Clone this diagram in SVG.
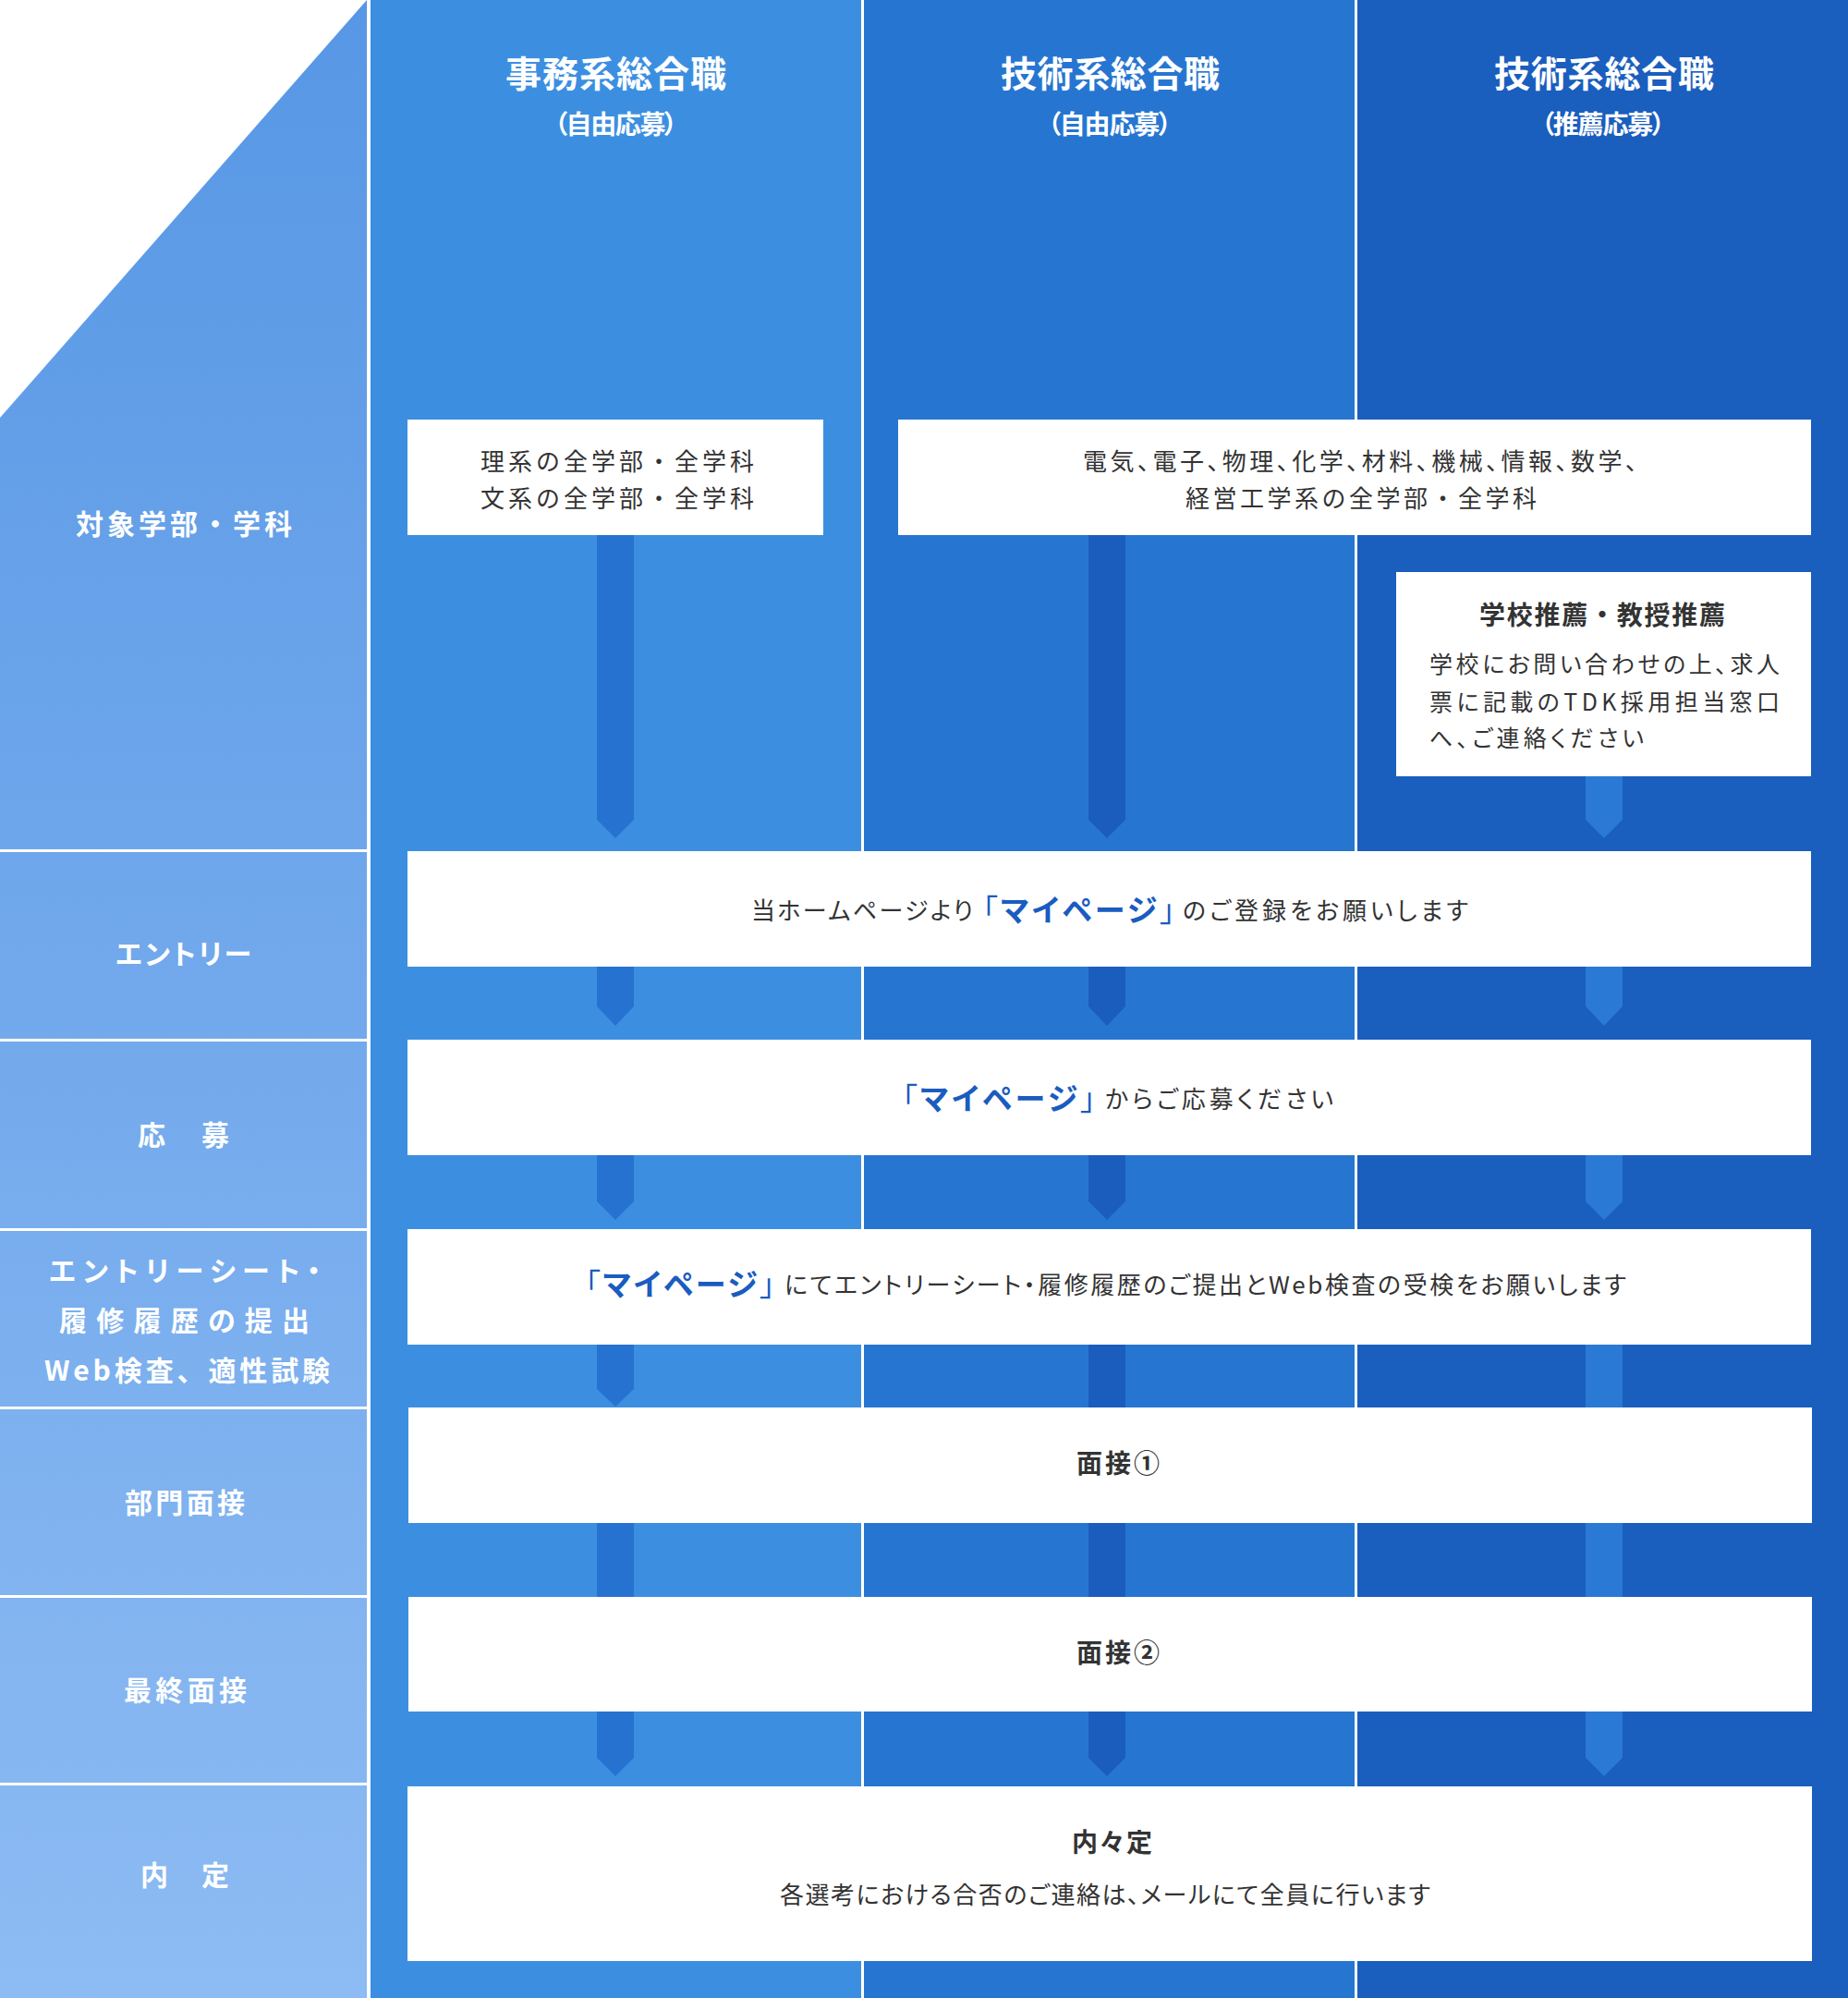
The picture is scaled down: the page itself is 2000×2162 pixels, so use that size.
<svg xmlns="http://www.w3.org/2000/svg" width="2000" height="2162" viewBox="0 0 2000 2162">
<defs>
<linearGradient id="leftGrad" x1="0" y1="0" x2="0" y2="2162" gradientUnits="userSpaceOnUse">
<stop offset="0" stop-color="#5797e5"/>
<stop offset="1" stop-color="#8dbbf3"/>
</linearGradient>
</defs>
<style>
text{font-family:"Noto Sans CJK JP","Noto Sans",sans-serif;font-feature-settings:"palt";}
.np{font-feature-settings:normal;}
.body{font-size:26px;fill:#333;}
.hd{font-size:39px;font-weight:700;fill:#fff;}
.sub{font-size:28px;font-weight:700;fill:#fff;}
.lbl{font-size:30px;font-weight:700;fill:#fff;}
.box{fill:#fff;}
.sep{fill:#fff;}
.mp{font-size:33px;fill:#1a5cc0;}
.b{font-weight:700;}
.bt{font-weight:700;font-size:28px;fill:#333;}
.a1{fill:#2672d0}.a2{fill:#1b5dbd}.a3{fill:#2a79d5}
</style>
<g id="background">
<rect x="0" y="0" width="2000" height="2162" fill="#fff"/>
<polygon points="397,0 397,2162 0,2162 0,452" fill="url(#leftGrad)"/>
<rect x="400" y="0" width="533" height="2162" fill="#3c8fe0"/>
<rect x="933" y="0" width="534" height="2162" fill="#2676d1"/>
<rect x="1467" y="0" width="533" height="2162" fill="#1a5ebe"/>
<rect class="sep" x="397" y="0" width="4" height="2162"/>
<rect class="sep" x="932" y="0" width="3" height="2162"/>
<rect class="sep" x="1466" y="0" width="3" height="2162"/>
<rect class="sep" x="0" y="919" width="397" height="3"/>
<rect class="sep" x="0" y="1124" width="397" height="3"/>
<rect class="sep" x="0" y="1329" width="397" height="3"/>
<rect class="sep" x="0" y="1522" width="397" height="3"/>
<rect class="sep" x="0" y="1726" width="397" height="3"/>
<rect class="sep" x="0" y="1929" width="397" height="3"/>
</g>
<g id="headers">
<g id="col1-header">
<text class="hd" x="547" y="94" textLength="239" lengthAdjust="spacing">事務系総合職</text>
<text class="sub" x="600" y="145" textLength="133" lengthAdjust="spacing">（自由応募）</text>
</g>
<g id="col2-header">
<text class="hd" x="1083" y="94" textLength="237" lengthAdjust="spacing">技術系総合職</text>
<text class="sub" x="1134" y="145" textLength="134" lengthAdjust="spacing">（自由応募）</text>
</g>
<g id="col3-header">
<text class="hd" x="1617" y="94" textLength="238" lengthAdjust="spacing">技術系総合職</text>
<text class="sub" x="1668" y="145" textLength="134" lengthAdjust="spacing">（推薦応募）</text>
</g>
</g>
<g id="row-labels">
<g id="lbl-target"><text class="lbl np" x="82" y="578" textLength="234" lengthAdjust="spacing">対象学部・学科</text></g>
<g id="lbl-entry"><text class="lbl" x="125" y="1043" textLength="147" lengthAdjust="spacing">エントリー</text></g>
<g id="lbl-apply"><text class="lbl" x="149" y="1239" textLength="99" lengthAdjust="spacing">応　募</text></g>
<g id="lbl-es">
<text class="lbl" x="53" y="1386" textLength="294" lengthAdjust="spacing">エントリーシート・</text>
<text class="lbl" x="64" y="1440" textLength="271" lengthAdjust="spacing">履修履歴の提出</text>
<text class="lbl np" x="48" y="1494" textLength="309" lengthAdjust="spacing">Web検査、適性試験</text>
</g>
<g id="lbl-int1"><text class="lbl" x="135" y="1637" textLength="130" lengthAdjust="spacing">部門面接</text></g>
<g id="lbl-int2"><text class="lbl" x="134" y="1840" textLength="133" lengthAdjust="spacing">最終面接</text></g>
<g id="lbl-offer"><text class="lbl" x="152" y="2040" textLength="96" lengthAdjust="spacing">内　定</text></g>
</g>
<g id="connectors">
<polygon class="a1" points="646,579 686,579 686,887 666,907 646,887"/>
<polygon class="a2" points="1178,579 1218,579 1218,887 1198,907 1178,887"/>
<polygon class="a3" points="1716,839 1756,839 1756,887 1736,907 1716,887"/>
<polygon class="a1" points="646,1046 686,1046 686,1089 666,1110 646,1089"/>
<polygon class="a2" points="1178,1046 1218,1046 1218,1089 1198,1110 1178,1089"/>
<polygon class="a3" points="1716,1046 1756,1046 1756,1089 1736,1110 1716,1089"/>
<polygon class="a1" points="646,1250 686,1250 686,1300 666,1320 646,1300"/>
<polygon class="a2" points="1178,1250 1218,1250 1218,1300 1198,1320 1178,1300"/>
<polygon class="a3" points="1716,1250 1756,1250 1756,1300 1736,1320 1716,1300"/>
<polygon class="a1" points="646,1455 686,1455 686,1503 666,1522 646,1503"/>
<rect class="a2" x="1178" y="1455" width="40" height="68"/>
<rect class="a3" x="1716" y="1455" width="40" height="68"/>
<rect class="a1" x="646" y="1648" width="40" height="80"/>
<rect class="a2" x="1178" y="1648" width="40" height="80"/>
<rect class="a3" x="1716" y="1648" width="40" height="80"/>
<polygon class="a1" points="646,1852 686,1852 686,1902 666,1922 646,1902"/>
<polygon class="a2" points="1178,1852 1218,1852 1218,1902 1198,1922 1178,1902"/>
<polygon class="a3" points="1716,1852 1756,1852 1756,1902 1736,1922 1716,1902"/>
</g>
<g id="box-target-admin">
<rect class="box" x="441" y="454" width="450" height="125"/>
<text class="body np" x="520" y="509" textLength="296" lengthAdjust="spacing">理系の全学部・全学科</text>
<text class="body np" x="520" y="549" textLength="296" lengthAdjust="spacing">文系の全学部・全学科</text>
</g>
<g id="box-target-tech">
<rect class="box" x="972" y="454" width="988" height="125"/>
<text class="body" x="1172" y="509" textLength="600" lengthAdjust="spacing">電気、電子、物理、化学、材料、機械、情報、数学、</text>
<text class="body np" x="1283" y="549" textLength="380" lengthAdjust="spacing">経営工学系の全学部・全学科</text>
</g>
<g id="box-recommend">
<rect class="box" x="1511" y="619" width="449" height="221"/>
<text class="bt np" x="1601" y="676" textLength="266" lengthAdjust="spacing">学校推薦・教授推薦</text>
<text class="body" style="font-size:25px" x="1547" y="728" textLength="379" lengthAdjust="spacing">学校にお問い合わせの上、求人</text>
<text class="body" style="font-size:25px" x="1547" y="769" textLength="379" lengthAdjust="spacing">票に記載のTDK採用担当窓口</text>
<text class="body" style="font-size:25px" x="1547" y="808" textLength="232" lengthAdjust="spacing">へ、ご連絡ください</text>
</g>
<g id="box-entry">
<rect class="box" x="441" y="921" width="1519" height="125"/>
<text class="body" x="813" y="995" textLength="240" lengthAdjust="spacing">当ホームページより</text>
<text class="mp" x="1063" y="997" textLength="209" lengthAdjust="spacing">「<tspan class="b">マイページ</tspan>」</text>
<text class="body" x="1280" y="995" textLength="309" lengthAdjust="spacing">のご登録をお願いします</text>
</g>
<g id="box-apply">
<rect class="box" x="441" y="1125" width="1519" height="125"/>
<text class="mp" x="976" y="1201" textLength="210" lengthAdjust="spacing">「<tspan class="b">マイページ</tspan>」</text>
<text class="body" x="1196" y="1199" textLength="247" lengthAdjust="spacing">からご応募ください</text>
</g>
<g id="box-es">
<rect class="box" x="441" y="1330" width="1519" height="125"/>
<text class="mp" x="633" y="1402" textLength="206" lengthAdjust="spacing">「<tspan class="b">マイページ</tspan>」</text>
<text class="body" x="849" y="1400" textLength="911" lengthAdjust="spacing">にてエントリーシート・履修履歴のご提出とWeb検査の受検をお願いします</text>
</g>
<g id="box-interview1">
<rect class="box" x="442" y="1523" width="1519" height="125"/>
<text class="bt" x="1165" y="1594" textLength="90" lengthAdjust="spacing">面接①</text>
</g>
<g id="box-interview2">
<rect class="box" x="442" y="1728" width="1519" height="124"/>
<text class="bt" x="1165" y="1799" textLength="90" lengthAdjust="spacing">面接②</text>
</g>
<g id="box-offer">
<rect class="box" x="441" y="1933" width="1520" height="189"/>
<text class="bt" x="1160" y="2004" textLength="87" lengthAdjust="spacing">内々定</text>
<text class="body" x="844" y="2060" textLength="704" lengthAdjust="spacing">各選考における合否のご連絡は、メールにて全員に行います</text>
</g>
</svg>
